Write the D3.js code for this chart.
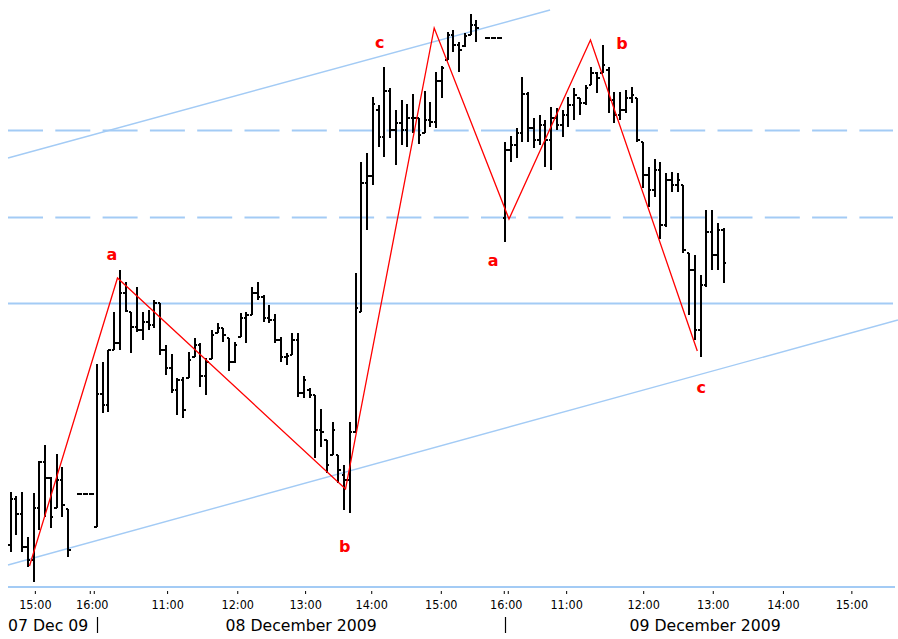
<!DOCTYPE html>
<html>
<head>
<meta charset="utf-8">
<script src="https://cdn.jsdelivr.net/npm/d3@7"></script>
<style>
  html, body { margin: 0; padding: 0; background: #fff; }
  svg { display: block; }
</style>
</head>
<body>
<svg id="chart" width="898" height="639"></svg>
<script>
// 5-minute bars, 07-09 Dec 2009. null = no bar in that slot.
const open = [
  1.0055, 1.0101, 1.0086, 1.0053, 1.0040, 1.0092, 1.0138, 1.0122, 1.0092, 1.0120,
  1.0091, null, 1.0106, 1.0106, 1.0106, 1.0073, 1.0206, 1.0195, 1.0250, 1.0257,
  1.0307, 1.0288, 1.0273, 1.0270, 1.0278, 1.0275, 1.0297, 1.0250, 1.0232, 1.0210,
  1.0220, 1.0222, 1.0243, 1.0255, 1.0224, 1.0241, 1.0267, 1.0272, 1.0262, 1.0238,
  1.0263, 1.0282, 1.0285, 1.0307, 1.0303, 1.0282, 1.0280, 1.0260, 1.0243, 1.0245,
  1.0260, 1.0207, 1.0210, 1.0205, 1.0170, 1.0160, 1.0145, 1.0145, 1.0125, 1.0120,
  1.0168, 1.0288, 1.0417, 1.0424, 1.0490, 1.0463, 1.0509, 1.0470, 1.0477, 1.0470,
  1.0482, 1.0482, 1.0467, 1.0480, 1.0478, 1.0519, 1.0540, 1.0565, 1.0555, 1.0554,
  1.0565, 1.0575, null, 1.0562, 1.0562, 1.0562, 1.0382, 1.0450, 1.0455, 1.0467,
  1.0506, 1.0472, 1.0460, 1.0475, 1.0460, 1.0482, 1.0475, 1.0485, 1.0495, 1.0502,
  1.0497, 1.0515, 1.0527, 1.0527, 1.0530, 1.0500, 1.0485, 1.0490, 1.0502, 1.0502,
  1.0458, 1.0425, 1.0410, 1.0430, 1.0375, 1.0420, 1.0415, 1.0415, 1.0347, 1.0330,
  1.0270, 1.0315, 1.0368, 1.0345, 1.0370
];
const high = [
  1.0108, 1.0104, 1.0108, 1.0063, 1.0107, 1.0139, 1.0155, 1.0123, 1.0146, 1.0133,
  1.0091, null, 1.0106, 1.0106, 1.0106, 1.0236, 1.0238, 1.0250, 1.0288, 1.0330,
  1.0318, 1.0288, 1.0313, 1.0288, 1.0290, 1.0300, 1.0297, 1.0255, 1.0246, 1.0222,
  1.0223, 1.0248, 1.0262, 1.0257, 1.0242, 1.0270, 1.0277, 1.0272, 1.0262, 1.0258,
  1.0287, 1.0288, 1.0313, 1.0318, 1.0305, 1.0295, 1.0286, 1.0263, 1.0247, 1.0267,
  1.0267, 1.0224, 1.0212, 1.0205, 1.0191, 1.0160, 1.0178, 1.0145, 1.0135, 1.0178,
  1.0327, 1.0438, 1.0447, 1.0503, 1.0495, 1.0533, 1.0512, 1.0490, 1.0500, 1.0496,
  1.0506, 1.0482, 1.0509, 1.0498, 1.0528, 1.0534, 1.0568, 1.0570, 1.0558, 1.0567,
  1.0586, 1.0580, null, 1.0562, 1.0562, 1.0562, 1.0458, 1.0464, 1.0472, 1.0523,
  1.0508, 1.0482, 1.0485, 1.0480, 1.0493, 1.0492, 1.0490, 1.0503, 1.0512, 1.0502,
  1.0515, 1.0533, 1.0528, 1.0555, 1.0533, 1.0508, 1.0508, 1.0510, 1.0513, 1.0502,
  1.0458, 1.0433, 1.0441, 1.0438, 1.0427, 1.0428, 1.0427, 1.0415, 1.0347, 1.0345,
  1.0325, 1.0390, 1.0390, 1.0377, 1.0372
];
const low = [
  1.0048, 1.0065, 1.0048, 1.0033, 1.0018, 1.0070, 1.0083, 1.0072, 1.0092, 1.0083,
  1.0043, null, 1.0106, 1.0106, 1.0106, 1.0073, 1.0187, 1.0188, 1.0250, 1.0250,
  1.0288, 1.0247, 1.0268, 1.0260, 1.0270, 1.0272, 1.0245, 1.0225, 1.0207, 1.0185,
  1.0182, 1.0222, 1.0243, 1.0213, 1.0205, 1.0241, 1.0267, 1.0258, 1.0229, 1.0237,
  1.0263, 1.0257, 1.0285, 1.0300, 1.0278, 1.0277, 1.0257, 1.0238, 1.0235, 1.0245,
  1.0203, 1.0202, 1.0202, 1.0142, 1.0153, 1.0127, 1.0145, 1.0117, 1.0090, 1.0087,
  1.0168, 1.0288, 1.0370, 1.0415, 1.0453, 1.0443, 1.0462, 1.0435, 1.0455, 1.0453,
  1.0467, 1.0456, 1.0467, 1.0473, 1.0472, 1.0502, 1.0540, 1.0548, 1.0528, 1.0553,
  1.0565, 1.0558, null, 1.0562, 1.0562, 1.0562, 1.0358, 1.0438, 1.0442, 1.0458,
  1.0458, 1.0452, 1.0455, 1.0433, 1.0430, 1.0470, 1.0463, 1.0473, 1.0480, 1.0485,
  1.0495, 1.0515, 1.0507, 1.0527, 1.0487, 1.0477, 1.0480, 1.0487, 1.0497, 1.0458,
  1.0412, 1.0393, 1.0403, 1.0361, 1.0373, 1.0408, 1.0408, 1.0347, 1.0285, 1.0260,
  1.0243, 1.0313, 1.0330, 1.0330, 1.0317
];
const close = [
  1.0101, 1.0086, 1.0053, 1.0040, 1.0092, 1.0138, 1.0122, 1.0083, 1.0120, 1.0095,
  1.0050, null, 1.0106, 1.0106, 1.0106, 1.0206, 1.0195, 1.0250, 1.0257, 1.0307,
  1.0289, 1.0273, 1.0270, 1.0278, 1.0275, 1.0297, 1.0250, 1.0232, 1.0210, 1.0220,
  1.0190, 1.0240, 1.0255, 1.0224, 1.0238, 1.0265, 1.0272, 1.0265, 1.0238, 1.0255,
  1.0282, 1.0285, 1.0307, 1.0303, 1.0282, 1.0280, 1.0260, 1.0243, 1.0244, 1.0260,
  1.0207, 1.0220, 1.0205, 1.0170, 1.0168, 1.0135, 1.0170, 1.0130, 1.0120, 1.0168,
  1.0292, 1.0417, 1.0424, 1.0496, 1.0463, 1.0509, 1.0470, 1.0477, 1.0470, 1.0482,
  1.0482, 1.0465, 1.0480, 1.0478, 1.0519, 1.0532, 1.0565, 1.0555, 1.0550, 1.0564,
  1.0575, 1.0572, null, 1.0562, 1.0562, 1.0562, 1.0450, 1.0455, 1.0467, 1.0506,
  1.0472, 1.0460, 1.0475, 1.0460, 1.0482, 1.0475, 1.0485, 1.0495, 1.0505, 1.0497,
  1.0512, 1.0527, 1.0522, 1.0535, 1.0500, 1.0485, 1.0490, 1.0502, 1.0505, 1.0460,
  1.0425, 1.0410, 1.0430, 1.0375, 1.0420, 1.0415, 1.0420, 1.0350, 1.0330, 1.0270,
  1.0315, 1.0368, 1.0345, 1.0370, 1.0337
];

// Time axis: tick positions in bar units, their labels, and which ones mark a session break.
const tickIndex  = [4.2, 14.1, 27.2, 39.4, 51.2, 62.7, 74.8, 86.1, 96.6, 110.0, 122.1, 134.3, 146.2];
const tickLabels = ['15:00', '16:00', '11:00', '12:00', '13:00', '14:00', '15:00',
                    '16:00', '11:00', '12:00', '13:00', '14:00', '15:00'];
const tickBreak  = [false, true, false, false, false, false, false, true, false, false, false, false, false];

// Day labels and the first bar of each new day.
const dayLabels = ['07 Dec 09', '08 December 2009', '09 December 2009'];
const dayStart  = [0, 15, 86];

// Horizontal price levels (solid / dashed).
const levelPrices = [1.0297, 1.0383, 1.0470];
const levelDashed = [false, true, true];

// Trend channel, each line given by two (bar, price) points.
const channelUpper = [[-0.47, 1.0442], [93.8, 1.0590]];
const channelLower = [[-0.47, 1.0035], [154.3, 1.0280]];

// Zigzag pivots (bar, price) and the wave labels.
const zigzag = [[3.27, 1.0034], [18.57, 1.0322], [58.23, 1.0111], [73.65, 1.0572],
                [86.66, 1.0381], [100.83, 1.0560], [119.41, 1.0249]];
const waveText  = ['a', 'b', 'c', 'a', 'b', 'c'];
const waveBar   = [17.6, 58.1, 64.2, 83.9, 106.3, 120.1];
const wavePrice = [1.0341, 1.0049, 1.0553, 1.0335, 1.0552, 1.0208];

const WIDTH = 898;
const HEIGHT = 639;
const PLOT_LEFT = 8;
const PLOT_RIGHT = 895;
const BASE_Y = 587;
const LINE_BLUE = '#a3cbf5';
const ZIGZAG_RED = '#ff0000';
const TICK_LEN = 2.5;
const TIME_FONT = '"DejaVu Sans Condensed", "DejaVu Sans", sans-serif';
const DATE_FONT = '"DejaVu Sans", Verdana, sans-serif';

const svg = d3.select('#chart').attr('viewBox', `0 0 ${WIDTH} ${HEIGHT}`);

const x = d3.scaleLinear().domain([0, open.length - 1]).range([10.7, 723.7]);
const y = d3.scaleLinear().domain([1.0, 1.06]).range([600, 0]);

const bars = open.map((o, i) => ({ i, o, h: high[i], l: low[i], c: close[i] }))
    .filter((d) => d.o !== null);

// ----- levels and channel -----
const gLines = svg.append('g').attr('class', 'layer-lines');

gLines.selectAll('line.level')
    .data(levelPrices.map((p, k) => ({ p, dashed: levelDashed[k] })))
    .join('line')
    .attr('class', 'level')
    .attr('x1', PLOT_LEFT).attr('x2', PLOT_RIGHT - 2)
    .attr('y1', (d) => Math.round(y(d.p)) + 0.5)
    .attr('y2', (d) => Math.round(y(d.p)) + 0.5)
    .attr('stroke', LINE_BLUE)
    .attr('stroke-width', 2)
    .attr('stroke-dasharray', (d) => d.dashed ? '35,12.3' : null);

const channelLine = d3.line().x((d) => x(d[0])).y((d) => y(d[1]));
gLines.selectAll('path.channel')
    .data([channelUpper, channelLower])
    .join('path')
    .attr('class', 'channel')
    .attr('d', channelLine)
    .attr('fill', 'none')
    .attr('stroke', LINE_BLUE)
    .attr('stroke-width', 1.4);

// bottom frame line
gLines.append('line')
    .attr('x1', PLOT_LEFT).attr('x2', PLOT_RIGHT)
    .attr('y1', BASE_Y).attr('y2', BASE_Y)
    .attr('stroke', LINE_BLUE)
    .attr('stroke-width', 2);

// ----- OHLC bars -----
const gBars = svg.append('g').attr('class', 'layer-bars')
    .attr('stroke', '#000').attr('shape-rendering', 'crispEdges');

const bar = gBars.selectAll('g.bar').data(bars).join('g').attr('class', 'bar');
bar.filter((d) => d.h !== d.l).append('line')
    .attr('x1', (d) => x(d.i)).attr('x2', (d) => x(d.i))
    .attr('y1', (d) => y(d.h)).attr('y2', (d) => y(d.l))
    .attr('stroke-width', 2);
bar.append('line')
    .attr('x1', (d) => x(d.i) - TICK_LEN).attr('x2', (d) => x(d.i))
    .attr('y1', (d) => y(d.o)).attr('y2', (d) => y(d.o))
    .attr('stroke-width', 1.5);
bar.append('line')
    .attr('x1', (d) => x(d.i)).attr('x2', (d) => x(d.i) + TICK_LEN)
    .attr('y1', (d) => y(d.c)).attr('y2', (d) => y(d.c))
    .attr('stroke-width', 1.5);

// ----- zigzag + wave labels -----
const gWave = svg.append('g').attr('class', 'layer-wave');
gWave.append('path')
    .datum(zigzag)
    .attr('d', d3.line().x((d) => x(d[0])).y((d) => y(d[1])))
    .attr('fill', 'none')
    .attr('stroke', ZIGZAG_RED)
    .attr('stroke-width', 1.3);

gWave.selectAll('text')
    .data(waveText.map((t, k) => ({ t, i: waveBar[k], p: wavePrice[k] })))
    .join('text')
    .attr('x', (d) => x(d.i))
    .attr('y', (d) => y(d.p) + 1)
    .attr('text-anchor', 'middle')
    .attr('font-family', DATE_FONT)
    .attr('font-weight', 'bold')
    .attr('font-size', 16)
    .attr('fill', ZIGZAG_RED)
    .text((d) => d.t);

// ----- time axis -----
const axis = d3.axisBottom(x)
    .tickValues(tickIndex)
    .tickFormat((d, k) => tickLabels[k])
    .tickSizeInner(3)
    .tickSizeOuter(0)
    .tickPadding(6);

const gAxis = svg.append('g').attr('class', 'axis')
    .attr('transform', `translate(0,${BASE_Y + 4})`)
    .call(axis);
gAxis.select('.domain').remove();
gAxis.selectAll('.tick line').attr('stroke', '#000').attr('stroke-width', 1);
gAxis.selectAll('.tick')
    .filter((d, k) => tickBreak[k])
    .each(function () {
        const t = d3.select(this);
        t.select('line').attr('x1', -2).attr('x2', -2);
        t.append('line').attr('x1', 2).attr('x2', 2).attr('y2', 3)
            .attr('stroke', '#000').attr('stroke-width', 1);
    });
gAxis.selectAll('.tick text')
    .attr('font-family', TIME_FONT)
    .attr('font-size', 12.5)
    .attr('fill', '#000');

// ----- day row -----
const gDays = svg.append('g').attr('class', 'days')
    .attr('font-family', DATE_FONT)
    .attr('font-size', 15.7)
    .attr('fill', '#000');

gDays.selectAll('text')
    .data(dayLabels.map((t, k) => {
        const from = k === 0 ? PLOT_LEFT : x(dayStart[k]);
        const to = k + 1 < dayStart.length ? x(dayStart[k + 1]) : PLOT_RIGHT + 10;
        return { t, k, from, to };
    }))
    .join('text')
    .attr('x', (d) => d.k === 0 ? d.from : (d.from + d.to) / 2)
    .attr('y', 631)
    .attr('text-anchor', (d) => d.k === 0 ? 'start' : 'middle')
    .text((d) => d.t);

// separators at the first bar of each new day
gDays.selectAll('line')
    .data(dayStart.slice(1))
    .join('line')
    .attr('x1', (d) => Math.round(x(d)) + 0.5).attr('x2', (d) => Math.round(x(d)) + 0.5)
    .attr('y1', 617).attr('y2', 633)
    .attr('stroke', '#000')
    .attr('stroke-width', 1.2);
</script>
</body>
</html>
